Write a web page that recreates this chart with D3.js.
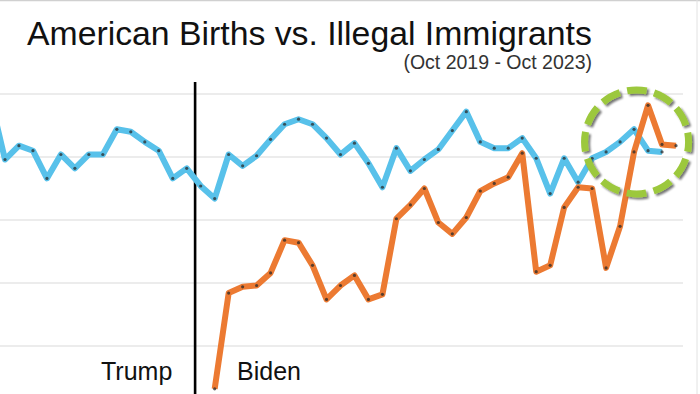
<!DOCTYPE html>
<html lang="en">
<head>
    <meta charset="UTF-8">
    <title>American Births vs. Illegal Immigrants</title>
    <script src="https://d3js.org/d3.v7.min.js"></script>
    <style>
        body { margin: 0; background: #fff; }
        svg { display: block; font-family: "Liberation Sans", Arial, sans-serif; }
        .grid line { stroke: #dadada; stroke-width: 1.2; }
    </style>
</head>
<body>
    <svg width="700" height="394"></svg>
    <script>
        // month labels (one per point)
        var months = ["Sep 2019","Oct 2019","Nov 2019","Dec 2019","Jan 2020","Feb 2020","Mar 2020","Apr 2020","May 2020","Jun 2020",
            "Jul 2020","Aug 2020","Sep 2020","Oct 2020","Nov 2020","Dec 2020","Jan 2021","Feb 2021","Mar 2021","Apr 2021",
            "May 2021","Jun 2021","Jul 2021","Aug 2021","Sep 2021","Oct 2021","Nov 2021","Dec 2021","Jan 2022","Feb 2022",
            "Mar 2022","Apr 2022","May 2022","Jun 2022","Jul 2022","Aug 2022","Sep 2022","Oct 2022","Nov 2022","Dec 2022",
            "Jan 2023","Feb 2023","Mar 2023","Apr 2023","May 2023","Jun 2023","Jul 2023","Aug 2023","Sep 2023","Oct 2023"];

        // American births (thousands)
        var births = [245, 198, 209, 205, 183, 202, 191, 202, 202, 222,
            220, 212, 205, 183, 191, 177, 167, 202, 193, 201,
            214, 226, 230, 226, 215, 202, 211, 195, 176, 207,
            189, 198, 206, 221, 236, 212, 207, 207, 215, 199,
            171, 199, 180, 199, 204, 212, 222, 205, 204, null];

        // illegal immigrants (thousands)
        var immigrants = [null, null, null, null, null, null, null, null, null, null,
            null, null, null, null, null, null, 16, 92, 97, 98,
            108, 134, 132, 114, 87, 98, 106, 87, 91, 151,
            162, 175, 148, 139, 152, 173, 179, 184, 203, 109,
            114, 160, 176, 175, 112, 145, 204, 241, 210, 209];

        var gridValues = [0, 50, 100, 150, 200, 250];
        var dividerMonth = "Nov 2020";
        var highlightMonth = "Jul 2023", highlightValue = 212;

        var svg = d3.select("svg"),
            width = +svg.attr("width"),
            height = +svg.attr("height");

        var x = d3.scalePoint().domain(months).range([-9, 676]),
            y = d3.scaleLinear().domain([0, 250]).range([409, 94]);

        svg.append("rect").attr("width", width).attr("height", height).attr("fill", "#fff");

        // thin frame lines from the screenshot
        svg.append("line").attr("x1", 0).attr("x2", width).attr("y1", 0.5).attr("y2", 0.5)
            .attr("stroke", "#d0d0d0").attr("stroke-width", 1.5);
        svg.append("line").attr("x1", 697).attr("x2", 697).attr("y1", 0).attr("y2", height)
            .attr("stroke", "#e2e2e2").attr("stroke-width", 1);

        svg.append("g")
            .attr("class", "grid")
            .selectAll("line")
            .data(gridValues)
            .enter().append("line")
            .attr("x1", 0)
            .attr("x2", 683)
            .attr("y1", function (d) { return y(d); })
            .attr("y2", function (d) { return y(d); });

        // title
        var title = svg.append("text")
            .attr("x", 27)
            .attr("y", 45)
            .attr("fill", "#111")
            .style("font-size", "35px")
            .text("American Births vs. Illegal Immigrants");
        var tw = title.node().getComputedTextLength();
        title.style("font-size", (35 * 565 / tw) + "px");

        svg.append("text")
            .attr("x", 592)
            .attr("y", 69)
            .attr("text-anchor", "end")
            .attr("fill", "#333")
            .style("font-size", "19.5px")
            .text("(Oct 2019 - Oct 2023)");

        // Trump / Biden divider
        var xDiv = x(dividerMonth) + x.step() * 0.6;
        svg.append("line")
            .attr("x1", xDiv).attr("x2", xDiv)
            .attr("y1", 82).attr("y2", height)
            .attr("stroke", "#000").attr("stroke-width", 2.6);

        svg.append("text").attr("x", 101).attr("y", 380).attr("fill", "#111")
            .style("font-size", "25px").text("Trump");
        svg.append("text").attr("x", 237).attr("y", 380).attr("fill", "#111")
            .style("font-size", "25px").text("Biden");

        var line = function (values) {
            return d3.line()
                .defined(function (d) { return d != null; })
                .x(function (d, i) { return x(months[i]); })
                .y(function (d) { return y(d); })(values);
        };

        var series = [
            {values: births, color: "#58c1ea"},
            {values: immigrants, color: "#ec7a32"}
        ];

        series.forEach(function (s) {
            svg.append("path")
                .attr("d", line(s.values))
                .attr("fill", "none")
                .attr("stroke", s.color)
                .attr("stroke-width", 6)
                .attr("stroke-linejoin", "round");

            svg.append("g")
                .selectAll("circle")
                .data(s.values.map(function (d, i) { return {m: months[i], v: d}; })
                    .filter(function (d) { return d.v != null; }))
                .enter().append("circle")
                .attr("cx", function (d) { return x(d.m); })
                .attr("cy", function (d) { return y(d.v); })
                .attr("r", 1.6)
                .attr("fill", "#2a2a2a")
                .attr("opacity", 0.75);
        });

        // green dashed highlight circle
        var defs = svg.append("defs");
        var f = defs.append("filter").attr("id", "shadow")
            .attr("x", "-20%").attr("y", "-20%").attr("width", "140%").attr("height", "140%");
        f.append("feGaussianBlur").attr("in", "SourceAlpha").attr("stdDeviation", 1.2).attr("result", "b");
        f.append("feOffset").attr("in", "b").attr("dx", 1.5).attr("dy", 2).attr("result", "o");
        f.append("feComponentTransfer").attr("in", "o").attr("result", "s")
            .append("feFuncA").attr("type", "linear").attr("slope", 0.55);
        var fm = f.append("feMerge");
        fm.append("feMergeNode").attr("in", "s");
        fm.append("feMergeNode").attr("in", "SourceGraphic");

        var r = 52, circ = 2 * Math.PI * r, period = circ / 12;
        svg.append("circle")
            .attr("cx", x(highlightMonth) + 2.5)
            .attr("cy", y(highlightValue))
            .attr("r", r)
            .attr("fill", "none")
            .attr("stroke", "#9cc83c")
            .attr("stroke-width", 7)
            .attr("stroke-dasharray", (period * 0.72) + " " + (period * 0.28))
            .attr("stroke-dashoffset", period * 0.36)
            .attr("filter", "url(#shadow)");
    </script>
</body>
</html>
